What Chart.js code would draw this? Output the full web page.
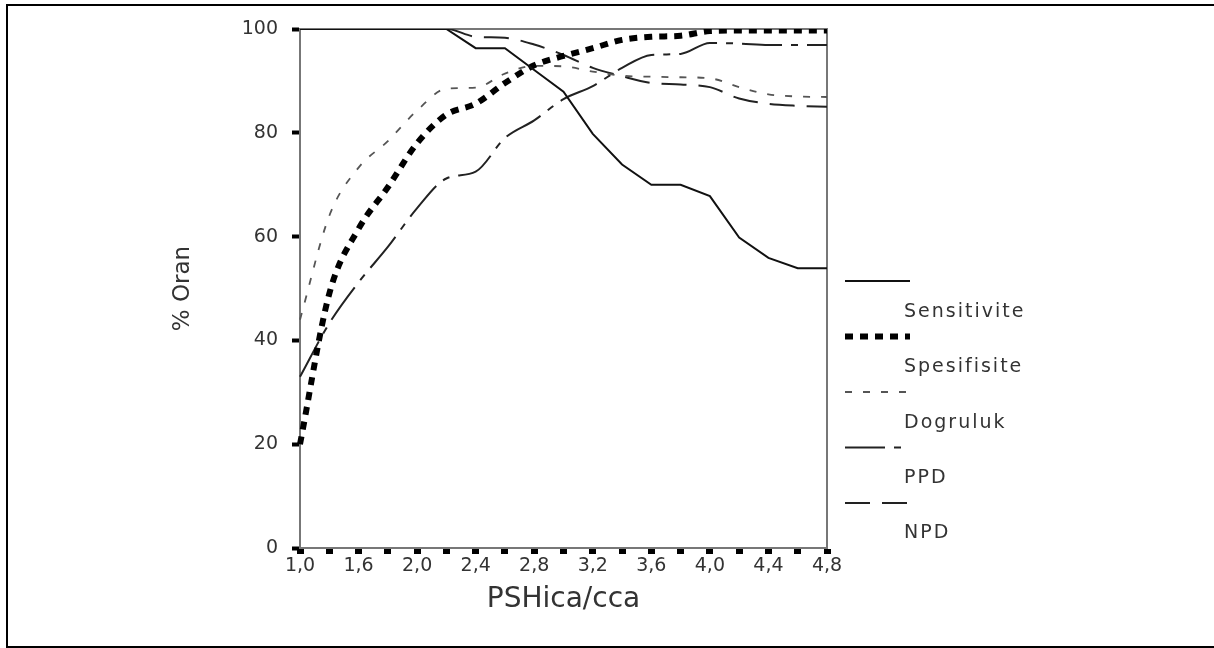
<!DOCTYPE html>
<html>
<head>
<meta charset="utf-8">
<script src="https://cdn.jsdelivr.net/npm/chart.js@4/dist/chart.umd.min.js"></script>
<style>
  html, body { margin: 0; padding: 0; background: #fff; }
  #wrap { width: 1214px; height: 648px; position: relative; }
</style>
</head>
<body>
<div id="wrap"><canvas id="chart"></canvas></div>
<script>
// PSHica/cca esik degerleri (x ekseni, her ikinci etiket yaziliyor)
const esikler = ['1,0', '1,2', '1,6', '1,8', '2,0', '2,2', '2,4', '2,6', '2,8', '3,0',
                 '3,2', '3,4', '3,6', '3,8', '4,0', '4,2', '4,4', '4,6', '4,8'];

const sensitivite = [100, 100, 100, 100, 100, 100, 96.3, 96.3, 92.1, 87.9, 79.8, 73.9, 70, 70, 67.8, 59.8, 55.9, 53.9, 53.9];
const spesifisite = [20, 49, 61.5, 69.5, 78, 83.5, 85.6, 89.6, 93, 94.8, 96.3, 97.9, 98.5, 98.7, 99.6, 99.7, 99.7, 99.7, 99.7];
const dogruluk    = [44, 64, 73.3, 78.4, 84.3, 88.5, 88.7, 91.4, 92.9, 92.8, 91.8, 91, 90.8, 90.7, 90.5, 88.8, 87.4, 87, 86.9];
const ppd         = [33, 43.3, 51.2, 58, 65.5, 71.2, 72.5, 79, 82.4, 86.5, 89, 92.5, 95, 95.2, 97.3, 97.2, 96.9, 96.9, 96.9];
const npd         = [100, 100, 100, 100, 100, 100, 98.5, 98.3, 97, 95, 92.5, 90.9, 89.6, 89.3, 88.8, 86.6, 85.6, 85.2, 85];

const yTicks = [0, 20, 40, 60, 80, 100];

const FONT = "'DejaVu Sans', 'Liberation Sans', sans-serif";
const TEXT = '#333';

// legend: ornek cizgi ustte, etiket altta (orijinaldeki gibi)
const legendPlugin = {
    id: 'altLegend',
    afterDraw(chart) {
        const ctx = chart.ctx;
        chart.data.datasets.forEach((ds, i) => {
            const sy = 281 + 55.5 * i;
            const ty = 312 + 55.3 * i;
            ctx.save();
            ctx.strokeStyle = ds.borderColor;
            ctx.lineWidth = ds.borderWidth;
            ctx.setLineDash(ds.borderDash || []);
            ctx.beginPath();
            ctx.moveTo(845, sy);
            ctx.lineTo(910, sy);
            ctx.stroke();
            ctx.setLineDash([]);
            ctx.fillStyle = TEXT;
            ctx.font = '19px ' + FONT;
            ctx.letterSpacing = '2px';
            ctx.textBaseline = 'middle';
            ctx.fillText(ds.label, 904, ty);
            ctx.letterSpacing = '0px';
            ctx.restore();
        });
    }
};

// grafik alaninin ust/sag cercevesi ve resmin dis cercevesi
const framePlugin = {
    id: 'frames',
    beforeDatasetsDraw(chart) {
        const { ctx, chartArea: a } = chart;
        ctx.save();
        ctx.strokeStyle = '#777';
        ctx.lineWidth = 2;
        ctx.beginPath();
        ctx.moveTo(a.left, a.top);
        ctx.lineTo(a.right, a.top);
        ctx.lineTo(a.right, a.bottom);
        ctx.stroke();
        ctx.restore();
    },
    afterDraw(chart) {
        const ctx = chart.ctx;
        ctx.save();
        ctx.strokeStyle = '#000';
        ctx.lineWidth = 2;
        ctx.beginPath();
        ctx.moveTo(1214, 5);
        ctx.lineTo(7, 5);
        ctx.lineTo(7, 647);
        ctx.lineTo(1214, 647);
        ctx.stroke();
        ctx.restore();
    }
};

new Chart(document.getElementById('chart'), {
    type: 'line',
    data: {
        labels: esikler,
        datasets: [
            { label: 'Sensitivite', data: sensitivite, borderColor: '#111', borderWidth: 2, borderDash: [] },
            { label: 'Spesifisite', data: spesifisite, borderColor: '#000', borderWidth: 6, borderDash: [8, 7], cubicInterpolationMode: 'monotone' },
            { label: 'Dogruluk', data: dogruluk, borderColor: '#555', borderWidth: 1.8, borderDash: [7, 11], cubicInterpolationMode: 'monotone' },
            { label: 'PPD', data: ppd, borderColor: '#222', borderWidth: 2, borderDash: [40, 9, 7, 9], cubicInterpolationMode: 'monotone' },
            { label: 'NPD', data: npd, borderColor: '#222', borderWidth: 2, borderDash: [25, 12], cubicInterpolationMode: 'monotone' }
        ]
    },
    options: {
        responsive: true,
        maintainAspectRatio: false,
        animation: false,
        elements: {
            point: { radius: 0 },
            line: { tension: 0, fill: false }
        },
        layout: {
            padding: { left: 160, top: 29, right: 387, bottom: 30 }
        },
        plugins: {
            legend: { display: false },
            tooltip: { enabled: false }
        },
        scales: {
            x: {
                afterFit: (s) => { s.height = 70; },
                grid: {
                    drawOnChartArea: false,
                    drawTicks: true,
                    tickLength: 6,
                    tickWidth: 7,
                    tickColor: '#000'
                },
                border: { display: true, color: '#777', width: 2 },
                ticks: {
                    autoSkip: false,
                    maxRotation: 0,
                    padding: 1,
                    color: TEXT,
                    font: { family: FONT, size: 19 },
                    callback: (v, i) => (i % 2 === 0 ? esikler[i] : '')
                },
                title: {
                    display: true,
                    text: 'PSHica/cca',
                    color: TEXT,
                    font: { family: FONT, size: 28 },
                    padding: { top: 0, bottom: 1 }
                }
            },
            y: {
                min: 0,
                max: 100,
                afterFit: (s) => { s.width = 140; },
                afterBuildTicks: (s) => { s.ticks = yTicks.map(v => ({ value: v })); },
                grid: {
                    drawOnChartArea: false,
                    drawTicks: true,
                    tickLength: 8,
                    tickWidth: 4,
                    tickColor: '#000'
                },
                border: { display: true, color: '#777', width: 2 },
                ticks: {
                    padding: 14,
                    color: TEXT,
                    font: { family: FONT, size: 19 }
                },
                title: {
                    display: true,
                    text: '% Oran',
                    color: TEXT,
                    font: { family: FONT, size: 23 },
                    padding: { top: 9, bottom: 0 }
                }
            }
        }
    },
    plugins: [legendPlugin, framePlugin]
});
</script>
</body>
</html>
